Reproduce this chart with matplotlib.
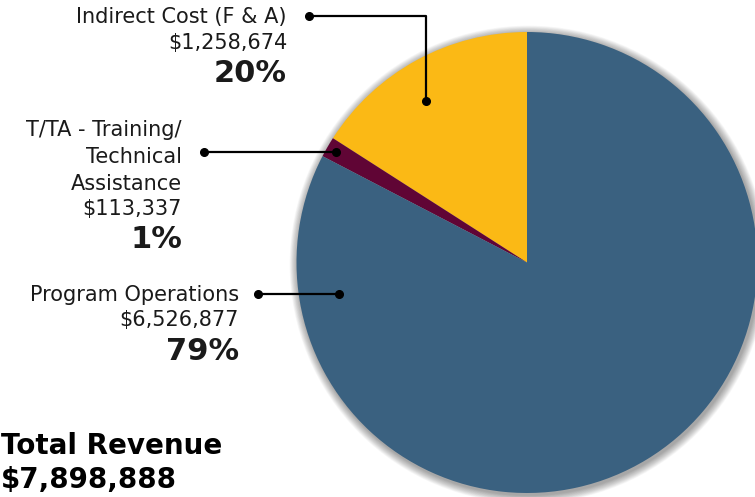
import matplotlib.pyplot as plt
from matplotlib.patches import Circle

# data
labels = ["Indirect Cost (F & A)", "T/TA - Training/\nTechnical\nAssistance", "Program Operations"]
amounts = [1258674, 113337, 6526877]
percents = ["20%", "1%", "79%"]
colors = ["#FBB915", "#600535", "#3A6180"]
total_label = "Total Revenue"
total_value = "$7,898,888"

W, H = 755, 497
fig = plt.figure(figsize=(W / 100, H / 100), dpi=100)
ax = fig.add_axes([0, 0, 1, 1])

cx, cy, r = 527, H - 262.5, 230.5

# soft shadow round the pie
for i in range(14, 0, -1):
    ax.add_patch(Circle((cx + 1.5, cy - 2), r + i * 0.6, color="black", alpha=0.028, lw=0, zorder=1))

ax.pie(amounts, colors=colors, startangle=90, counterclock=True, center=(cx, cy), radius=r,
       wedgeprops=dict(linewidth=0, zorder=2), frame=True)

ax.set_xlim(0, W)
ax.set_ylim(0, H)
ax.set_aspect("auto")
ax.axis("off")

txt = "#1a1a1a"
fs, fb = 15, 22

def block(x, ys, name, amount, pct):
    lines = name.split("\n") + ["${:,}".format(amount)]
    for y, s in zip(ys[:-1], lines):
        ax.text(x, H - y, s, ha="right", va="center", fontsize=fs, color=txt)
    ax.text(x, H - ys[-1], pct, ha="right", va="center", fontsize=fb, fontweight="bold", color=txt)

block(287, [17, 43, 74], labels[0], amounts[0], percents[0])
block(182, [130, 157, 184, 209, 240], labels[1], amounts[1], percents[1])
block(239, [295, 320, 351], labels[2], amounts[2], percents[2])

# connector lines
def connector(xs, ys):
    ax.plot(xs, [H - y for y in ys], color="black", lw=1.6, zorder=5, solid_capstyle="butt")
    ax.plot([xs[0], xs[-1]], [H - ys[0], H - ys[-1]], "o", color="black", ms=5.5, zorder=6, lw=0)

connector([309, 426, 426], [16, 16, 101])
connector([204, 336], [152, 152])
connector([258, 339], [294, 294])

ax.text(1, H - 446, total_label, ha="left", va="center", fontsize=20, fontweight="bold", color="black")
ax.text(1, 3, total_value, ha="left", va="bottom", fontsize=20, fontweight="bold", color="black")

fig.savefig("out.png", dpi=100)
